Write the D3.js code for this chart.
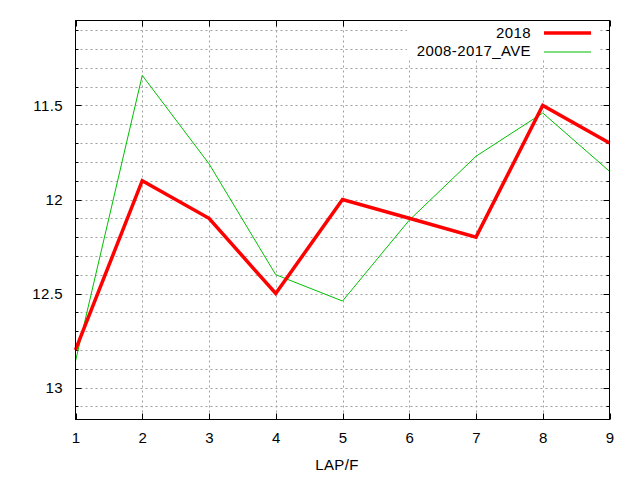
<!DOCTYPE html>
<html>
<head>
<meta charset="utf-8">
<script src="https://cdn.jsdelivr.net/npm/d3@7"></script>
<style>
  body { margin: 0; background: #fff; }
  text { font-family: "Liberation Sans", Arial, sans-serif; fill: #000; font-size: 15px; letter-spacing: 0.4px; }
</style>
</head>
<body>
<script>
// laps on the x axis
const laps = [1, 2, 3, 4, 5, 6, 7, 8, 9];
// lap times (seconds), y axis is reversed
const y2018 = [12.8, 11.9, 12.1, 12.5, 12.0, 12.1, 12.2, 11.5, 11.7];
const yAve = [12.86, 11.34, 11.81, 12.40, 12.54, 12.11, 11.77, 11.54, 11.85];
const seriesNames = ["2018", "2008-2017_AVE"];
const yTickLabels = [11.5, 12, 12.5, 13];
const xLabel = "LAP/F";

const W = 640, H = 480;
const pLeft = 75.5, pRight = 609.5, pTop = 20.5, pBottom = 419.5;

let svg = d3.select("body").append("svg")
    .attr("width", W)
    .attr("height", H);

const x = d3.scaleLinear().domain([1, 9]).range([pLeft, pRight]);
const y = d3.scaleLinear().domain([11.048, 13.17]).range([pTop, pBottom]);

// minor grid every 0.1
const minor = d3.range(111, 132, 1).map(v => v / 10).filter(v => v > 11.048 && v < 13.17);

// grid
const grid = svg.append("g").attr("stroke", "#a0a0a0").attr("stroke-dasharray", "2,3").attr("stroke-width", 1);
grid.selectAll("line.h").data(minor).enter().append("line")
    .attr("x1", pLeft).attr("x2", pRight)
    .attr("y1", d => Math.round(y(d)) + 0.5).attr("y2", d => Math.round(y(d)) + 0.5);
grid.selectAll("line.v").data(laps.slice(1, -1)).enter().append("line")
    .attr("x1", d => Math.round(x(d)) + 0.5).attr("x2", d => Math.round(x(d)) + 0.5)
    .attr("y1", pTop).attr("y2", pBottom);

// ticks (both sides)
const ticks = svg.append("g").attr("stroke", "#000").attr("stroke-width", 1);
minor.forEach(d => {
    const major = yTickLabels.some(t => Math.abs(t - d) < 1e-6);
    const len = major ? 6 : 3;
    const yy = Math.round(y(d)) + 0.5;
    ticks.append("line").attr("x1", pLeft).attr("x2", pLeft + len).attr("y1", yy).attr("y2", yy);
    ticks.append("line").attr("x1", pRight).attr("x2", pRight - len).attr("y1", yy).attr("y2", yy);
});
laps.forEach(d => {
    const xx = Math.round(x(d)) + 0.5;
    ticks.append("line").attr("x1", xx).attr("x2", xx).attr("y1", pBottom).attr("y2", pBottom - 6);
    ticks.append("line").attr("x1", xx).attr("x2", xx).attr("y1", pTop).attr("y2", pTop + 6);
});

// tick labels
svg.append("g").selectAll("text").data(yTickLabels).enter().append("text")
    .attr("x", 63).attr("y", d => y(d) + 5.5)
    .attr("text-anchor", "end")
    .text(d => d);
svg.append("g").selectAll("text").data(laps).enter().append("text")
    .attr("x", d => x(d) + 0.5).attr("y", 443)
    .attr("text-anchor", "middle")
    .text(d => d);
svg.append("text").attr("x", 337).attr("y", 470)
    .attr("text-anchor", "middle").text(xLabel);

// legend box (white behind grid)
svg.append("rect").attr("x", 407).attr("y", 21).attr("width", 191).attr("height", 39).attr("fill", "#fff");

// lines
const line = d3.line().x((d, i) => x(laps[i])).y(d => y(d));
svg.append("path").datum(yAve).attr("d", line)
    .attr("fill", "none").attr("stroke", "#00c000").attr("stroke-width", 1);
svg.append("path").datum(y2018).attr("d", line)
    .attr("fill", "none").attr("stroke", "#ff0000").attr("stroke-width", 3.5)
    .attr("stroke-linejoin", "miter");

// border
svg.append("rect").attr("x", pLeft).attr("y", pTop).attr("width", pRight - pLeft).attr("height", pBottom - pTop)
    .attr("fill", "none").attr("stroke", "#000").attr("stroke-width", 1);

// legend
const legColors = ["#ff0000", "#00c000"], legWidths = [3.5, 1];
seriesNames.forEach((n, i) => {
    svg.append("text").attr("x", 531).attr("y", 37.5 + i * 18.5)
        .attr("text-anchor", "end").text(n);
    svg.append("line").attr("x1", 544).attr("x2", 591)
        .attr("y1", 33 + i * 19).attr("y2", 33 + i * 19)
        .attr("stroke", legColors[i]).attr("stroke-width", legWidths[i]);
});
</script>
</body>
</html>
